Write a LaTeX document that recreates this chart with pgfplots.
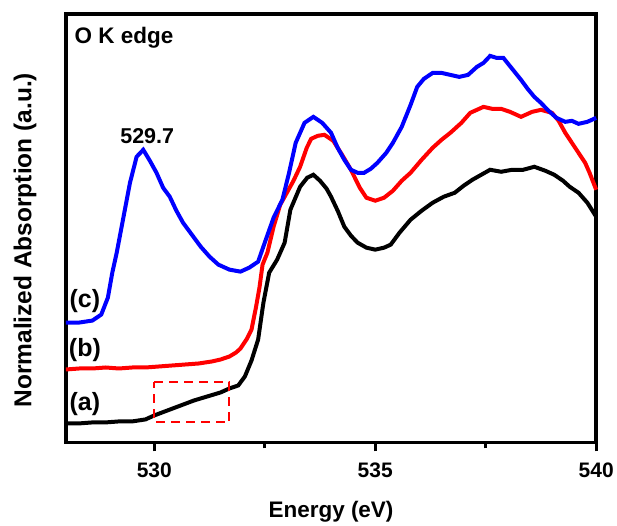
\documentclass[border=0pt]{standalone}
\usepackage{pgfplots}
\pgfplotsset{compat=1.18}
\usepackage{fontspec}
\setmainfont{Liberation Sans}
\begin{document}
\begin{tikzpicture}
\begin{axis}[
  scale only axis, width=531pt, height=429pt,
  xmin=528, xmax=540, ymin=0, ymax=429,
  axis line style={line width=3.5pt}, 
  xtick={530,535,540}, minor xtick={532.5,537.5},
  ytick=\empty,
  tick pos=bottom, tick align=outside,
  major tick length=9pt, minor tick length=6pt,
  every tick/.style={line width=3pt, black},
  tick label style={font=\fontsize{21}{25}\selectfont\bfseries},
  /pgf/number format/assume math mode=true,
  xticklabel style={yshift=-8pt},
  xlabel={Energy (eV)},
  ylabel={Normalized Absorption (a.u.)},
  label style={font=\fontsize{22.5}{27}\selectfont\bfseries},
  xlabel style={at={(axis description cs:0.5,-0.162)}, anchor=center},
  ylabel style={at={(axis description cs:-0.077,0.472)}, anchor=center, font=\fontsize{24.5}{29}\selectfont\bfseries},
  clip=false,
]
\addplot[black, line width=4pt] coordinates {
(528.0,19)(528.3,19)(528.6,20)(528.9,20)(529.2,21)(529.5,21)(529.8,23)(530.0,27)(530.3,32)(530.6,37)(530.9,42)(531.2,46)(531.5,50)(531.7,54)(531.9,57)(532.05,66)(532.2,82)(532.35,103)(532.47,140)(532.6,170)(532.78,183)(532.95,200)(533.08,233)(533.3,256)(533.46,265)(533.6,268)(533.75,262)(533.9,254)(534.0,246)(534.15,232)(534.3,216)(534.45,207)(534.6,200)(534.8,195)(535.0,193)(535.2,195)(535.35,198)(535.55,210)(535.8,223)(536.05,232)(536.3,240)(536.55,246)(536.8,250)(537.0,257)(537.2,263)(537.4,268)(537.6,273)(537.85,271)(538.1,273)(538.35,273)(538.6,276)(538.85,272)(539.05,268)(539.25,262)(539.4,256)(539.6,250)(539.8,240)(540,226)
};
\addplot[red, line width=4pt] coordinates {
(528.0,73)(528.3,74)(528.6,74)(528.9,75)(529.2,74)(529.5,75)(529.8,75)(530.1,76)(530.4,77)(530.7,78)(531.0,79)(531.3,81)(531.5,83)(531.7,86)(531.85,90)(531.95,94)(532.1,104)(532.2,113)(532.3,135)(532.38,155)(532.45,178)(532.56,190)(532.7,216)(532.85,238)(533.0,250)(533.15,262)(533.3,276)(533.45,295)(533.55,304)(533.7,307)(533.85,308)(534.05,302)(534.25,288)(534.45,273)(534.65,255)(534.8,245)(535.0,242)(535.2,245)(535.4,252)(535.6,262)(535.8,270)(536.05,283)(536.3,295)(536.5,303)(536.7,310)(536.95,320)(537.15,330)(537.45,336)(537.65,334)(537.85,334)(538.05,331)(538.3,326)(538.55,331)(538.75,333)(539.0,330)(539.15,322)(539.3,310)(539.45,300)(539.6,290)(539.75,280)(539.85,270)(540,253)
};
\addplot[blue, line width=4pt] coordinates {
(528.0,120)(528.3,120)(528.6,122)(528.8,128)(528.95,145)(529.05,170)(529.15,190)(529.3,225)(529.45,260)(529.6,286)(529.75,293)(529.9,282)(530.05,270)(530.2,255)(530.35,246)(530.5,232)(530.65,220)(530.85,208)(531.05,196)(531.25,186)(531.45,178)(531.7,173)(531.95,171)(532.15,175)(532.35,181)(532.5,200)(532.7,225)(532.9,243)(533.05,270)(533.2,300)(533.4,320)(533.6,326)(533.8,320)(534.0,310)(534.15,295)(534.3,283)(534.45,273)(534.6,270)(534.75,270)(534.9,274)(535.05,280)(535.25,290)(535.4,300)(535.6,316)(535.8,338)(535.95,356)(536.1,364)(536.3,370)(536.5,370)(536.7,368)(536.9,366)(537.1,368)(537.3,376)(537.45,380)(537.6,387)(537.75,385)(537.9,385)(538.1,374)(538.3,363)(538.45,354)(538.6,346)(538.75,340)(538.9,333)(539.1,325)(539.3,321)(539.45,322)(539.6,319)(539.8,321)(540,325)
};
\addplot[red, line width=2pt, dash pattern=on 9pt off 6pt] coordinates {(530.0,60)(531.7,60)(531.7,20)(530.0,20)(530.0,60)};
\node[anchor=west, font=\fontsize{22.5}{27}\selectfont\bfseries] at (axis cs:528.12,405) {O K edge};
\node[font=\fontsize{21.5}{26}\selectfont\bfseries] at (axis cs:529.84,307) {529.7};
\node[font=\fontsize{25}{30}\selectfont\bfseries] at (axis cs:528.43,142) {(c)};
\node[font=\fontsize{25}{30}\selectfont\bfseries] at (axis cs:528.43,92) {(b)};
\node[font=\fontsize{25}{30}\selectfont\bfseries] at (axis cs:528.43,38) {(a)};
\end{axis}
\path ([xshift=-66pt,yshift=-82pt]current axis.south west) rectangle ([xshift=20pt,yshift=14pt]current axis.north east);
\end{tikzpicture}
\end{document}
